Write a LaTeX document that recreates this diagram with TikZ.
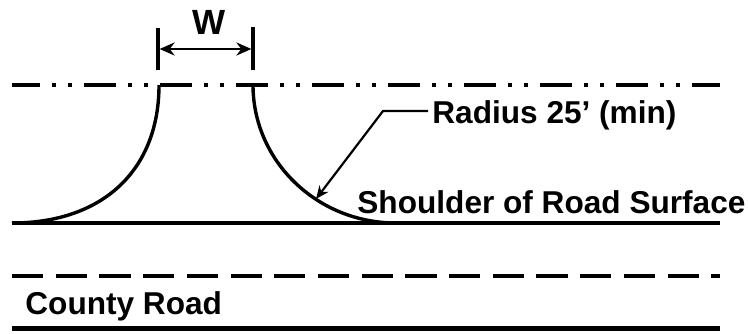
\documentclass[tikz,border=0pt]{standalone}
\usepackage{fontspec}
\setmainfont{Liberation Sans}
\usetikzlibrary{arrows.meta}

\begin{document}
\begin{tikzpicture}[x=0.5pt, y=-0.5pt,%
	every node/.style={inner sep=0pt, font=\fontsize{15.8}{19}\selectfont\bfseries},
	centre/.style={line width=2pt, dash pattern=on 16pt off 5.75pt on 2pt off 6.25pt on 2pt off 6pt, dash phase=2pt},
	lane/.style={line width=2.3pt, dash pattern=on 15.6pt off 6.25pt},
	edge/.style={line width=1.7pt},
	tick/.style={line width=1.7pt},
	dim/.style={line width=1.3pt, {Stealth[length=7.5pt, width=6.5pt]}-{Stealth[length=7.5pt, width=6.5pt]}},
	lead/.style={line width=1.1pt, -{Stealth[length=6.5pt, width=5.5pt]}}]
	\useasboundingbox (0,0) rectangle (748,333);

	\coordinate (cl) at (12,85);
	\coordinate (cr) at (720,85);
	\coordinate (sl) at (12,223);
	\coordinate (sr) at (720,223);
	\coordinate (ll) at (12,276);
	\coordinate (lr) at (720,276);
	\coordinate (el) at (12,328);
	\coordinate (er) at (720,328);

	\draw[centre] (cl) -- (cr);
	\draw[line width=2pt] (sl) -- (sr);
	\draw[lane] (ll) -- (lr);
	\draw[line width=2.5pt] (el) -- (er);

	\coordinate (a) at (159,85);
	\coordinate (b) at (253,85);
	\coordinate (d) at (396,223);
	\draw[edge] (a) .. controls +(0,85) and +(91,0) .. (sl);
	\draw[edge] (b) .. controls +(0,76) and +(-79,0) .. (d);

	\coordinate (wl) at (158,49);
	\coordinate (wr) at (253,49);
	\draw[tick] (wl) ++(0,-21) -- ++(0,42);
	\draw[tick] (wr) ++(0,-22) -- ++(0,43);
	\draw[dim] ([xshift=0.8pt]wl) -- ([xshift=-0.8pt]wr);
	\node (w) [anchor=base, font=\fontsize{17.5}{21}\selectfont\bfseries] at (209,34) {W};

	\node (rad) [anchor=base west] at (432,123) {Radius 25’ (min)};
	\node (sh) [anchor=base west] at (357,213) {Shoulder of Road Surface};
	\node (cty) [anchor=base west] at (25,314) {County Road};

	\coordinate (knee) at (383,111);
	\coordinate (tip) at (316,199);
	\draw[lead] (knee -| rad.west) ++(-4,0) -- (knee) -- (tip);
	\end{tikzpicture}
\end{document}
